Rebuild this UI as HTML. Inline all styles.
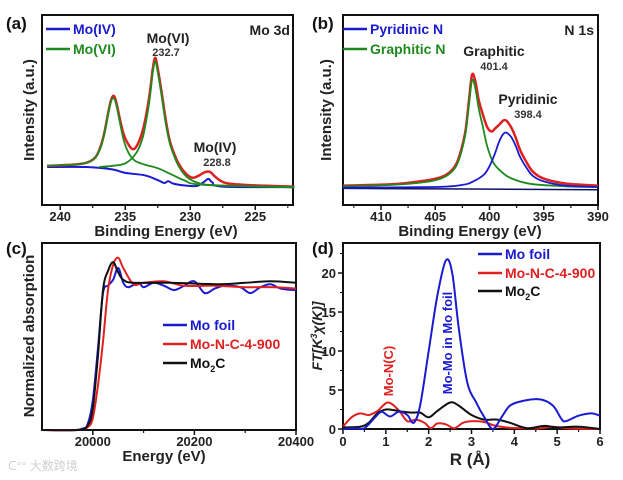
<!DOCTYPE html>
<html><head><meta charset="utf-8"><style>
html,body{margin:0;padding:0;background:#fff;}
svg{display:block;font-family:"Liberation Sans","Noto Sans CJK SC",sans-serif;}
</style></head><body>
<svg id="fig" width="623" height="480" viewBox="0 0 623 480" xmlns="http://www.w3.org/2000/svg">
<g id="pa"></g>
<g id="pb"></g>
<g id="pc"></g>
<g id="pd"></g>
<text x="8" y="470" font-size="12" fill="#d0d0d0">ᑕ°° 大数跨境</text>
</svg>
<script>
// ---- Panel (a) Mo 3d data [eV, intensity] ----
const aEnvelope=[[241,18],[239,19],[238,20.5],[237.3,25],[236.9,34],[236.6,46],[236.3,63],[236.1,73],[235.9,77],[235.7,72],[235.4,57],[235.1,44],[234.7,35],[234.4,32],[234.1,35],[233.7,46],[233.4,60],[233.1,80],[232.9,98],[232.7,109],[232.5,100],[232.2,80],[231.9,58],[231.6,40],[231.2,27],[230.8,18],[230.3,11],[229.8,8],[229.3,10],[228.9,12.5],[228.5,13],[228.1,9],[227.6,5],[227,3],[225,1.5],[222,0.5]];
const aMoVI1=[[241,18],[239,19],[238,20.5],[237.3,25],[236.9,33],[236.6,45],[236.3,62],[236.1,72],[235.9,75],[235.7,70],[235.4,54],[235.1,39],[234.7,28],[234.2,22],[233.5,19],[232.5,16],[231.5,11],[230.5,6],[229,2],[222,0]];
const aMoVI2=[[237,17],[236,18],[235,20],[234.2,28],[233.7,40],[233.4,55],[233.1,76],[232.9,95],[232.7,106],[232.5,97],[232.2,77],[231.9,55],[231.6,38],[231.2,25],[230.8,16],[230.3,9],[229.5,4],[228,1.5],[222,0]];
const aMoIV=[[241,17],[238,17],[236,15],[235,12],[233.5,10],[232.5,6],[232,3.5],[231.7,5],[231.3,3],[230.5,1.5],[229.5,1],[229,4],[228.6,7],[228.3,4],[227.5,0.5],[222,0]];
const aTicks=[240,235,230,225];
// ---- Panel (b) N 1s data ----
const bEnvelope=[[413.5,2],[409,3],[406,5.5],[404.5,8],[403.6,12],[403,18.5],[402.6,28],[402.2,42],[401.9,63],[401.6,82],[401.3,77],[401,64],[400.6,53],[400.2,44],[399.8,41],[399.5,43],[399.1,46],[398.7,49],[398.4,48.5],[398,44],[397.6,37],[397.2,28],[396.6,19],[396,12],[395,7],[393,3.5],[390,2]];
const bGraphitic=[[413.5,1.5],[409,2.5],[406,4.5],[404.5,7],[403.6,11],[403,17],[402.6,26],[402.2,40],[401.9,60],[401.6,78],[401.3,72],[401,58],[400.6,44],[400.2,30],[399.6,18],[398.6,10],[397.6,6],[396,3],[393,1.5],[390,1]];
const bPyridinic=[[413.5,0.5],[405,1],[402.5,2.5],[401.5,5],[400.5,10],[400,16],[399.5,25],[399.1,34],[398.7,39.5],[398.4,40],[398,37],[397.6,31],[397.2,23],[396.6,15],[396,9],[395,5],[393,2],[390,1]];
const bBaseline=[[413.5,0],[390,-1]];
const bTicks=[410,405,400,395,390];
// ---- Panel (c) XANES ----
const cMoFoil=[[19900,0],[19960,0],[19980,0.01],[19990,0.04],[20000,0.2],[20010,0.55],[20020,0.93],[20030,0.98],[20040,1.02],[20050,1.1],[20060,1.0],[20070,0.97],[20090,1.0],[20100,0.97],[20120,1.0],[20140,0.98],[20160,0.95],[20180,0.98],[20200,1.01],[20220,0.93],[20240,0.96],[20260,0.98],[20290,0.97],[20310,0.93],[20330,0.97],[20350,0.99],[20370,0.96],[20400,0.95]];
const cMoNC=[[19900,0],[19970,0],[19990,0.02],[20000,0.08],[20010,0.3],[20020,0.6],[20030,0.95],[20040,1.12],[20050,1.17],[20060,1.1],[20080,0.99],[20100,1.0],[20140,1.01],[20180,0.98],[20240,0.98],[20300,0.97],[20360,0.97],[20400,0.96]];
const cMo2C=[[19900,0],[19970,0],[19990,0.03],[20000,0.15],[20010,0.5],[20020,0.95],[20030,1.08],[20040,1.14],[20050,1.07],[20060,1.02],[20080,1.0],[20150,1.0],[20250,0.99],[20300,1.0],[20350,1.01],[20400,1.0]];
const cTicks=[20000,20200,20400];
// ---- Panel (d) EXAFS FT ----
const dMoFoil=[[0,0],[0.3,0.1],[0.5,0.1],[0.75,1.5],[0.9,2.2],[1.1,1.6],[1.3,2.2],[1.5,1.8],[1.65,0.8],[1.8,3],[2.0,10],[2.2,17],[2.4,21.6],[2.55,20],[2.7,13],[2.9,6],[3.1,3.5],[3.3,1.5],[3.5,0],[3.7,1.5],[3.9,3],[4.2,3.6],[4.6,3.8],[4.9,3],[5.1,1.3],[5.2,1],[5.5,1.7],[5.8,2],[6,1.7]];
const dMoNC=[[0,0.3],[0.2,1.5],[0.4,2],[0.6,1.8],[0.8,2.3],[1.05,3.4],[1.3,2.4],[1.5,1],[1.7,1.2],[1.9,0.8],[2.05,0.1],[2.2,0.7],[2.4,0.6],[2.6,0.1],[2.8,0.8],[3.0,1],[3.3,0.9],[3.5,0.5],[3.8,0.2],[4.2,0.1],[4.6,0.1],[4.9,0.3],[5.2,0.1],[6,0]];
const dMo2C=[[0,0.2],[0.4,0.3],[0.6,0.8],[0.8,2],[1.0,2.5],[1.2,2.4],[1.4,2.2],[1.6,2.1],[1.8,2.1],[2.0,1.5],[2.2,2.3],[2.5,3.4],[2.7,3],[3.0,1.8],[3.3,1.2],[3.6,1.2],[3.9,0.8],[4.3,0.1],[4.7,0.4],[5,0.2],[5.5,0.3],[6,0]];
const dXTicks=[0,1,2,3,4,5,6];
const dYTicks=[0,5,10,15,20];

const NS="http://www.w3.org/2000/svg";
function mk(parent,tag,attrs,txt){const e=document.createElementNS(NS,tag);for(const k in attrs)e.setAttribute(k,attrs[k]);if(txt!==undefined)e.textContent=txt;parent.appendChild(e);return e;}
function lin(d0,d1,r0,r1){return v=>r0+(v-d0)*(r1-r0)/(d1-d0);}
function smooth(pts){let d="M"+pts[0][0].toFixed(1)+","+pts[0][1].toFixed(1);
 for(let i=0;i<pts.length-1;i++){const p0=pts[i-1]||pts[i],p1=pts[i],p2=pts[i+1],p3=pts[i+2]||p2;
  const c1=[p1[0]+(p2[0]-p0[0])/6,p1[1]+(p2[1]-p0[1])/6],c2=[p2[0]-(p3[0]-p1[0])/6,p2[1]-(p3[1]-p1[1])/6];
  d+=" C"+c1.map(v=>v.toFixed(1))+" "+c2.map(v=>v.toFixed(1))+" "+p2[0].toFixed(1)+","+p2[1].toFixed(1);}
 return d;}
function series(g,data,sx,sy,color,w,name){const p=mk(g,'path',{d:smooth(data.map(q=>[sx(q[0]),sy(q[1])])),fill:'none',stroke:color,'stroke-width':w,'stroke-linejoin':'round'});
 
 return p;}
function frame(g,x0,y0,x1,y1){const r=mk(g,'rect',{x:x0,y:y0,width:x1-x0,height:y1-y0,fill:'none',stroke:'#111','stroke-width':2});
 
 }
function txt(g,x,y,s,opt,name){const t=mk(g,'text',Object.assign({x:x,y:y},opt),s);
 
 return t;}
function xTicks(g,ticks,sx,yb,minorStep,x0,x1,ly){
 for(const t of ticks){mk(g,'line',{x1:sx(t),x2:sx(t),y1:yb,y2:yb+5,stroke:'#111','stroke-width':1.5});
  txt(g,sx(t),ly,String(t),{'font-size':13,'font-weight':'bold','text-anchor':'middle',fill:'#222'},'x-tick-label');}
 if(minorStep){for(const t of ticks){for(const m of [t+minorStep,t-minorStep]){const xm=sx(m);if(xm>x0+1&&xm<x1-1)mk(g,'line',{x1:xm,x2:xm,y1:yb,y2:yb+3,stroke:'#111','stroke-width':1});}}}
}
function legend(g,x,y,color,label,name,sub){mk(g,'line',{x1:x,x2:x+24,y1:y,y2:y,stroke:color,'stroke-width':2.5});
 const t=txt(g,x+27,y+5,label,{'font-size':14,'font-weight':'bold',fill:color},name);
 if(sub){mk(t,'tspan',{'font-size':9,dy:4},sub.s);mk(t,'tspan',{dy:-4},sub.rest);}
 return t;}

// Panel a
(function(){const g=document.getElementById('pa');const X0=42,X1=293,Y0=15,Y1=205;
 const sx=lin(241.4,222.1,X0,X1),sy=lin(-15,145,Y1,Y0);
 frame(g,X0,Y0,X1,Y1);xTicks(g,aTicks,sx,Y1,2.5,X0,X1,221);
 series(g,aMoIV,sx,sy,'#1a1ad0',2,'mo-iv-fit');
 series(g,aEnvelope,sx,sy,'#e02020',2.5,'envelope-fit');
 series(g,aMoVI1,sx,sy,'#1e8a1e',1.8,'mo-vi-fit-1');
 series(g,aMoVI2,sx,sy,'#1e8a1e',1.8,'mo-vi-fit-2');
 txt(g,6,29,'(a)',{'font-size':17,'font-weight':'bold',fill:'#111'},'panel-label-a');
 legend(g,46,29,'#1a1ad0','Mo(IV)','legend-mo-iv');legend(g,46,49,'#1e8a1e','Mo(VI)','legend-mo-vi');
 txt(g,290,35,'Mo 3d',{'font-size':14,'font-weight':'bold','text-anchor':'end',fill:'#222'},'spectrum-label');
 txt(g,168,43,'Mo(VI)',{'font-size':14,'font-weight':'bold','text-anchor':'middle',fill:'#222'},'peak-label-mo-vi');
 txt(g,166,56,'232.7',{'font-size':11,'font-weight':'bold','text-anchor':'middle',fill:'#333'},'peak-value-232-7');
 txt(g,215,152,'Mo(IV)',{'font-size':14,'font-weight':'bold','text-anchor':'middle',fill:'#222'},'peak-label-mo-iv');
 txt(g,217,166,'228.8',{'font-size':11,'font-weight':'bold','text-anchor':'middle',fill:'#333'},'peak-value-228-8');
 txt(g,166,236,'Binding Energy (eV)',{'font-size':15,'font-weight':'bold','text-anchor':'middle',fill:'#222'},'x-axis-title');
 txt(g,0,0,'Intensity (a.u.)',{'font-size':15,'font-weight':'bold','text-anchor':'middle',fill:'#222',transform:'translate(34,110) rotate(-90)'},'y-axis-title');
})();
// Panel b
(function(){const g=document.getElementById('pb');const X0=343,X1=598,Y0=15,Y1=205;
 const sx=lin(413.5,390,X0,X1),sy=lin(-12,125,Y1,Y0);
 frame(g,X0,Y0,X1,Y1);xTicks(g,bTicks,sx,Y1,2.5,X0,X1,221);
 series(g,bBaseline,sx,sy,'#101060',1.5,'baseline');
 series(g,bEnvelope,sx,sy,'#e02020',2.5,'envelope-fit');
 series(g,bGraphitic,sx,sy,'#1e8a1e',1.8,'graphitic-n-fit');
 series(g,bPyridinic,sx,sy,'#1a1ad0',1.8,'pyridinic-n-fit');
 txt(g,312,29,'(b)',{'font-size':17,'font-weight':'bold',fill:'#111'},'panel-label-b');
 legend(g,343,29,'#1a1ad0','Pyridinic N','legend-pyridinic-n');legend(g,343,49,'#1e8a1e','Graphitic N','legend-graphitic-n');
 txt(g,594,35,'N 1s',{'font-size':14,'font-weight':'bold','text-anchor':'end',fill:'#222'},'spectrum-label');
 txt(g,494,56,'Graphitic',{'font-size':14,'font-weight':'bold','text-anchor':'middle',fill:'#222'},'peak-label-graphitic');
 txt(g,494,70,'401.4',{'font-size':11,'font-weight':'bold','text-anchor':'middle',fill:'#333'},'peak-value-401-4');
 txt(g,528,104,'Pyridinic',{'font-size':14,'font-weight':'bold','text-anchor':'middle',fill:'#222'},'peak-label-pyridinic');
 txt(g,528,118,'398.4',{'font-size':11,'font-weight':'bold','text-anchor':'middle',fill:'#333'},'peak-value-398-4');
 txt(g,470,236,'Binding Energy (eV)',{'font-size':15,'font-weight':'bold','text-anchor':'middle',fill:'#222'},'x-axis-title');
 txt(g,0,0,'Intensity (a.u.)',{'font-size':15,'font-weight':'bold','text-anchor':'middle',fill:'#222',transform:'translate(331,110) rotate(-90)'},'y-axis-title');
})();
// Panel c
(function(){const g=document.getElementById('pc');const X0=42,X1=296,Y0=243,Y1=430;
 const sx=lin(19900,20400,X0,X1),sy=lin(0,1.27,Y1,Y0);
 frame(g,X0,Y0,X1,Y1);xTicks(g,cTicks,sx,Y1,100,X0,X1,446);
 series(g,cMoFoil,sx,sy,'#1a1ad0',2,'mo-foil-line');
 series(g,cMoNC,sx,sy,'#e02020',2,'mo-n-c-4-900-line');
 series(g,cMo2C,sx,sy,'#111',2,'mo2c-line');
 txt(g,6,254,'(c)',{'font-size':17,'font-weight':'bold',fill:'#111'},'panel-label-c');
 legend(g,163,325,'#1a1ad0','Mo foil','legend-mo-foil');legend(g,163,344,'#e02020','Mo-N-C-4-900','legend-mo-n-c');
 legend(g,163,363,'#111','Mo','legend-mo2c',{s:'2',rest:'C'});
 txt(g,164,461,'Energy (eV)',{'font-size':15,'font-weight':'bold','text-anchor':'middle',fill:'#222'},'x-axis-title');
 txt(g,0,0,'Normalized absorption',{'font-size':15,'font-weight':'bold','text-anchor':'middle',fill:'#222',transform:'translate(34,336) rotate(-90)'},'y-axis-title');
})();
// Panel d
(function(){const g=document.getElementById('pd');const X0=343,X1=600,Y0=243,Y1=429;
 const sx=lin(0,6,X0,X1),sy=lin(0,23.85,Y1,Y0);
 frame(g,X0,Y0,X1,Y1);xTicks(g,dXTicks,sx,Y1,0.5,X0,X1,446);
 for(const t of dYTicks){mk(g,'line',{x1:X0-5,x2:X0,y1:sy(t),y2:sy(t),stroke:'#111','stroke-width':1.5});
  mk(g,'line',{x1:X0-3,x2:X0,y1:sy(t+2.5),y2:sy(t+2.5),stroke:'#111','stroke-width':1});
  txt(g,X0-7,sy(t)+5,String(t),{'font-size':13,'font-weight':'bold','text-anchor':'end',fill:'#222'},'y-tick-label');}
 series(g,dMoNC,sx,sy,'#e02020',2,'mo-n-c-4-900-line');
 series(g,dMo2C,sx,sy,'#111',2,'mo2c-line');
 series(g,dMoFoil,sx,sy,'#1a1ad0',2,'mo-foil-line');
 txt(g,312,254,'(d)',{'font-size':17,'font-weight':'bold',fill:'#111'},'panel-label-d');
 legend(g,478,254,'#1a1ad0','Mo foil','legend-mo-foil');legend(g,478,273,'#e02020','Mo-N-C-4-900','legend-mo-n-c');
 legend(g,478,291,'#111','Mo','legend-mo2c',{s:'2',rest:'C'});
 txt(g,0,0,'Mo-N(C)',{'font-size':13,'font-weight':'bold','text-anchor':'middle',fill:'#e02020',transform:'translate(393,371) rotate(-90)'},'annotation-mo-n');
 txt(g,0,0,'Mo-Mo in Mo foil',{'font-size':13,'font-weight':'bold','text-anchor':'middle',fill:'#1a1ad0',transform:'translate(452,343) rotate(-90)'},'annotation-mo-mo');
 txt(g,470,465,'R (Å)',{'font-size':17,'font-weight':'bold','text-anchor':'middle',fill:'#222'},'x-axis-title');
 const yt=txt(g,0,0,'FT[K',{'font-size':14,'font-weight':'bold','font-style':'italic','text-anchor':'middle',fill:'#222',transform:'translate(322,336) rotate(-90)'},'y-axis-title');
 mk(yt,'tspan',{'font-size':9,dy:-5},'3');mk(yt,'tspan',{dy:5},'χ(K)]');
})();
</script>
</body></html>
